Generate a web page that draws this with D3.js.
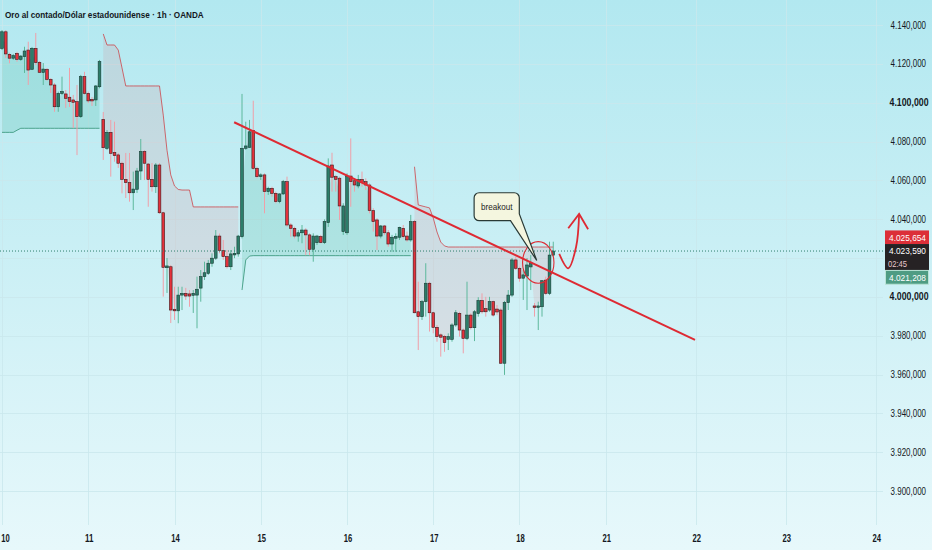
<!DOCTYPE html>
<html lang="es">
<head>
<meta charset="UTF-8">
<title>Oro al contado/Dólar estadounidense · 1h · OANDA</title>
<script src="https://d3js.org/d3.v7.min.js"></script>
<style>
  html, body { margin: 0; padding: 0; }
  body { width: 932px; height: 550px; overflow: hidden; font-family: "Liberation Sans", Arial, sans-serif; }
  svg { display: block; }
</style>
</head>
<body>
<div id="chart"></div>
<script>
// hourly bars, XAU/USD
const opens = [
  4128.0, 4136.5, 4124.9, 4122.9, 4125.4, 4122.3, 4123.7, 4127.1, 4117.2, 4128.0,
  4120.8, 4115.6, 4117.2, 4112.0, 4109.1, 4097.9, 4104.8, 4104.5, 4102.8, 4101.4,
  4100.5, 4092.8, 4113.4, 4104.8, 4101.7, 4101.4, 4108.2, 4091.4, 4076.5, 4084.7,
  4074.4, 4073.1, 4068.8, 4060.5, 4058.8, 4053.6, 4055.4, 4064.8, 4074.8, 4068.4,
  4060.5, 4056.7, 4067.9, 4043.3, 4015.0, 4015.5, 3993.6, 3992.8, 4000.9, 4001.8,
  4001.5, 4000.8, 4000.9, 4004.5, 4010.4, 4012.1, 4017.3, 4019.9, 4031.3, 4023.8,
  4020.7, 4015.5, 4021.6, 4022.1, 4031.0, 4076.5, 4077.0, 4085.6, 4066.2, 4061.9,
  4062.8, 4054.2, 4055.9, 4053.3, 4049.0, 4053.0, 4059.3, 4037.0, 4035.3, 4031.3,
  4033.0, 4034.4, 4031.9, 4024.5, 4027.9, 4031.0, 4027.9, 4038.2, 4067.9, 4061.9,
  4061.1, 4033.6, 4033.0, 4062.2, 4059.8, 4057.1, 4060.5, 4059.3, 4057.6, 4044.4,
  4039.6, 4031.3, 4036.5, 4033.0, 4027.2, 4030.2, 4030.7, 4035.3, 4031.3, 4029.3,
  4038.7, 3992.3, 3989.8, 3997.5, 4007.0, 3991.8, 3984.3, 3980.4, 3979.5, 3978.1,
  3978.1, 3985.5, 3991.5, 3982.9, 3978.6, 3990.6, 3984.1, 3991.4, 3998.1, 3993.9,
  3993.2, 3997.5, 3993.7, 3993.2, 3965.8, 3997.0, 4000.9, 4019.0, 4014.7, 4009.6,
  4010.7, 4015.4, 3995.3, 3994.6, 3994.9, 4008.6, 4001.8, 4021.5
];
const highs = [
  4137.4, 4137.4, 4125.7, 4125.1, 4126.2, 4124.5, 4128.8, 4131.4, 4128.7, 4135.9,
  4121.4, 4120.4, 4117.7, 4112.7, 4110.1, 4105.7, 4113.4, 4106.5, 4117.9, 4104.0,
  4109.1, 4114.3, 4115.9, 4105.7, 4102.9, 4109.1, 4122.0, 4095.2, 4085.9, 4091.1,
  4090.2, 4074.1, 4069.6, 4074.1, 4074.1, 4064.5, 4066.4, 4081.3, 4075.6, 4068.9,
  4068.9, 4068.9, 4068.9, 4043.8, 4020.0, 4016.4, 4005.2, 4005.2, 4005.2, 4004.6,
  4003.5, 4003.5, 4010.4, 4013.8, 4018.1, 4019.0, 4022.4, 4034.4, 4032.6, 4029.3,
  4024.1, 4024.1, 4025.8, 4031.9, 4104.5, 4090.2, 4091.1, 4101.0, 4067.0, 4063.6,
  4063.6, 4056.7, 4056.7, 4054.2, 4053.3, 4060.2, 4061.9, 4037.9, 4036.1, 4034.4,
  4037.0, 4035.3, 4032.7, 4032.7, 4031.9, 4031.9, 4039.9, 4071.3, 4074.2, 4062.8,
  4061.9, 4048.2, 4063.6, 4081.6, 4061.0, 4062.8, 4064.5, 4061.0, 4058.5, 4045.6,
  4040.5, 4037.0, 4037.0, 4034.4, 4031.9, 4032.7, 4036.1, 4037.0, 4033.6, 4042.2,
  4039.6, 4007.8, 3998.4, 4017.3, 4007.8, 3992.3, 3985.5, 3981.2, 3980.4, 3981.2,
  3986.4, 3993.2, 3992.3, 3983.7, 4007.8, 3991.5, 3993.2, 3999.8, 4001.8, 4000.0,
  4000.0, 3998.1, 3995.8, 3994.1, 3997.9, 4003.5, 4020.0, 4020.7, 4015.5, 4013.8,
  4020.0, 4021.5, 3996.8, 3997.5, 4008.6, 4010.4, 4028.4, 4028.4
];
const lows = [
  4127.1, 4123.0, 4120.3, 4122.0, 4121.1, 4121.5, 4115.3, 4109.1, 4116.8, 4119.4,
  4115.3, 4109.1, 4111.3, 4105.0, 4095.3, 4095.3, 4104.0, 4097.3, 4097.8, 4087.0,
  4073.0, 4092.1, 4104.0, 4099.8, 4098.3, 4098.3, 4107.4, 4070.5, 4075.6, 4061.9,
  4069.6, 4066.4, 4053.3, 4050.9, 4049.0, 4044.7, 4053.5, 4060.2, 4060.2, 4046.4,
  4054.2, 4053.5, 4042.7, 4000.1, 4002.0, 3986.5, 3988.1, 3986.4, 3993.2, 3998.4,
  3994.9, 3991.7, 3983.8, 3997.5, 4008.7, 4011.3, 4015.5, 4019.0, 4022.4, 4019.0,
  4014.6, 4013.8, 4019.9, 4020.7, 4030.1, 4075.6, 4076.7, 4065.3, 4061.1, 4060.2,
  4043.0, 4052.5, 4051.6, 4048.2, 4048.2, 4052.5, 4036.1, 4031.0, 4030.1, 4028.4,
  4027.6, 4021.5, 4021.5, 4018.1, 4026.7, 4027.6, 4027.2, 4036.0, 4054.2, 4054.2,
  4039.6, 4031.9, 4031.9, 4046.4, 4054.2, 4055.9, 4056.7, 4055.0, 4043.0, 4033.6,
  4024.1, 4030.1, 4031.9, 4025.8, 4023.2, 4023.2, 4029.3, 4030.1, 4028.4, 4028.4,
  3991.5, 3972.6, 3988.1, 3989.8, 3982.1, 3981.2, 3976.9, 3969.2, 3971.7, 3972.6,
  3976.9, 3984.6, 3979.5, 3970.9, 3977.7, 3983.2, 3977.2, 3989.8, 3991.4, 3989.8,
  3992.3, 3989.8, 3990.6, 3965.4, 3959.8, 3993.2, 4000.0, 4013.8, 4007.8, 3998.4,
  3993.2, 4003.5, 3989.8, 3982.9, 3989.8, 4000.9, 4000.9, 4020.7
];
const closes = [
  4136.5, 4125.1, 4122.9, 4124.2, 4122.3, 4124.0, 4126.6, 4116.8, 4128.0, 4120.6,
  4115.6, 4117.3, 4112.0, 4109.1, 4097.9, 4104.8, 4105.7, 4102.2, 4100.5, 4100.2,
  4092.8, 4113.4, 4104.8, 4100.9, 4100.9, 4108.6, 4121.1, 4076.8, 4084.7, 4073.9,
  4072.7, 4068.8, 4060.5, 4058.8, 4053.6, 4055.5, 4064.8, 4074.8, 4068.8, 4060.5,
  4056.7, 4067.9, 4043.3, 4015.2, 4015.9, 3993.2, 3992.8, 4000.9, 4001.8, 4000.4,
  4000.4, 4001.8, 4003.9, 4010.4, 4012.4, 4017.3, 4019.9, 4031.3, 4023.8, 4020.7,
  4015.5, 4022.1, 4022.4, 4031.3, 4076.5, 4077.7, 4085.0, 4066.2, 4061.9, 4062.8,
  4054.2, 4055.9, 4053.3, 4049.0, 4053.0, 4059.3, 4037.0, 4035.3, 4031.3, 4033.0,
  4034.4, 4031.9, 4024.5, 4031.3, 4031.3, 4027.9, 4038.7, 4067.4, 4061.6, 4060.5,
  4046.8, 4046.8, 4062.2, 4059.3, 4057.6, 4060.5, 4058.8, 4057.6, 4044.4, 4038.7,
  4031.3, 4036.5, 4033.0, 4027.2, 4030.7, 4031.0, 4035.8, 4031.0, 4029.3, 4038.7,
  3991.8, 3989.8, 3997.5, 4007.0, 3991.8, 3984.3, 3979.5, 3979.2, 3976.4, 3979.5,
  3985.5, 3991.8, 3982.9, 3978.6, 3990.6, 3984.1, 3992.3, 3998.1, 3992.3, 3992.3,
  3997.5, 3990.6, 3992.2, 3965.8, 3997.0, 4000.9, 4019.0, 4014.7, 4009.6, 4011.3,
  4016.4, 4017.5, 3994.6, 3995.3, 4008.3, 4001.8, 4021.5, 4023.59
];

// Supertrend level per bar, and where it is bullish / bearish
const stLine = [
  4084.7, 4084.7, 4084.7, 4084.7, 4085.8, 4086.8, 4086.8, 4086.8, 4086.8, 4086.8,
  4086.8, 4086.8, 4086.8, 4086.8, 4086.8, 4086.8, 4086.8, 4086.8, 4086.8, 4086.8,
  4086.8, 4086.8, 4086.8, 4086.8, 4086.8, 4086.8, 4086.8, 4135.4, 4129.7, 4129.7,
  4129.7, 4127.1, 4117.9, 4108.6, 4108.6, 4108.6, 4108.6, 4108.6, 4108.6, 4108.6,
  4108.6, 4108.6, 4108.6, 4093.6, 4075.5, 4062.8, 4057.1, 4055.3, 4055.0, 4055.0,
  4055.0, 4046.3, 4046.3, 4046.3, 4046.3, 4046.3, 4046.3, 4046.3, 4046.3, 4046.3,
  4046.3, 4046.3, 4046.3, 4046.3, 4003.5, 4019.0, 4021.0, 4021.2, 4021.2, 4021.2,
  4021.2, 4021.2, 4021.2, 4021.2, 4021.2, 4021.2, 4021.2, 4021.2, 4021.2, 4021.2,
  4021.2, 4021.2, 4021.2, 4021.2, 4021.2, 4021.2, 4021.2, 4021.2, 4021.2, 4021.2,
  4021.2, 4021.2, 4021.2, 4021.2, 4021.2, 4021.2, 4021.2, 4021.2, 4021.2, 4021.2,
  4021.2, 4021.2, 4021.2, 4021.2, 4021.2, 4021.2, 4021.2, 4021.2, 4021.2, 4021.2,
  4067.0, 4047.3, 4046.8, 4046.3, 4045.8, 4040.6, 4033.4, 4028.2, 4026.2, 4025.654,
  4025.654, 4025.654, 4025.654, 4025.654, 4025.654, 4025.654, 4025.654, 4025.654, 4025.654, 4025.654,
  4025.654, 4025.654, 4025.654, 4025.654, 4025.654, 4025.654, 4025.654, 4025.654, 4025.654, 4025.654,
  4025.654, 4025.654, 4025.654, 4025.654, 4025.654, 4025.654, 4025.654, 4025.654
];
const stSegments = [
  { from: 0, to: 26, up: true },
  { from: 27, to: 63, up: false },
  { from: 64, to: 109, up: true },
  { from: 110, to: 147, up: false }
];

const dayTicks = [0, 23, 46, 69, 92, 115, 138, 161, 185, 209, 233];
const dayLabels = ["10", "11", "14", "15", "16", "17", "18", "21", "22", "23", "24"];
const priceTicks = [3900, 3920, 3940, 3960, 3980, 4000, 4020, 4040, 4060, 4080, 4100, 4120, 4140];
const hiddenTicks = [4020];
const boldTicks = [4000, 4100];

const lastPrice = 4023.590;
const stopPrice = 4025.654;
const bidPrice = 4021.208;
const countdown = "02:45";

// annotations in [bar, price]
const trendLine = [[61.9, 4089.9], [184.8, 3977.8]];
const circleCenter = [143.0, 4017.7];
const calloutBox = [[125.9, 4053.6], [137.95, 4039.2]];
const calloutTail = [[135.6, 4039.2], [137.95, 4042.7], [142.6, 4018.7]];
const arrowPath = [[148.6, 4022.1], [151.0, 4014.7], [153.1, 4025.8], [153.9, 4042.7]];
const arrowHead = [[151.0, 4035.3], [153.9, 4042.7], [156.3, 4034.8]];

const width = 932, height = 550;
const plotW = 883, plotH = 525;

const es = d3.formatLocale({ decimal: ",", thousands: ".", grouping: [3], currency: ["", ""] });
const fmt = es.format(",.3f");

const x = d3.scaleLinear().domain([0, 233]).range([2, 2 + 233 * 3.75]);
const y = d3.scaleLinear().domain([3900, 4140]).range([491, 25]);

const svg = d3.select("#chart").append("svg")
  .attr("width", width).attr("height", height);

// squeeze a text horizontally to a given width (the chart's fonts are condensed)
function fitText(sel, px, py, w, anchor) {
  sel.attr("x", 0).attr("y", 0).attr("text-anchor", anchor || "start");
  sel.each(function () {
    const nat = this.getComputedTextLength();
    const s = Math.min(1.2, w / nat);
    d3.select(this).attr("transform", `translate(${px},${py}) scale(${s},1)`);
  });
  return sel;
}

const defs = svg.append("defs");
const grad = defs.append("linearGradient").attr("id", "bg")
  .attr("x1", 0).attr("y1", 0).attr("x2", 0).attr("y2", 1);
grad.append("stop").attr("offset", "0%").attr("stop-color", "#b2e8f0");
grad.append("stop").attr("offset", "100%").attr("stop-color", "#e7f8fb");
defs.append("clipPath").attr("id", "plot")
  .append("rect").attr("width", plotW).attr("height", plotH);

svg.append("rect").attr("width", width).attr("height", height).attr("fill", "url(#bg)");

// grid
const grid = svg.append("g");
grid.selectAll(".hg").data(priceTicks).join("line")
  .attr("x1", 0).attr("x2", plotW)
  .attr("y1", d => Math.round(y(d)) + 0.5).attr("y2", d => Math.round(y(d)) + 0.5)
  .attr("stroke", "#c9e7ec").attr("stroke-opacity", 0.8);
grid.selectAll(".vg").data(dayTicks).join("line")
  .attr("x1", d => Math.round(x(d)) + 0.5).attr("x2", d => Math.round(x(d)) + 0.5)
  .attr("y1", 0).attr("y2", plotH)
  .attr("stroke", "#c9e7ec").attr("stroke-opacity", 0.8);

const g = svg.append("g").attr("clip-path", "url(#plot)");

// supertrend fill + line
const mid = i => (opens[i] + closes[i]) / 2;
stSegments.forEach(s => {
  const idx = d3.range(s.from, s.to + 1);
  g.append("path").datum(idx)
    .attr("d", d3.area().x(i => x(i)).y0(i => y(stLine[i])).y1(i => y(mid(i))))
    .attr("fill", s.up ? "rgba(20,160,120,0.15)" : "rgba(235,70,80,0.11)");
  g.append("path").datum(idx)
    .attr("d", d3.line().x(i => x(i)).y(i => y(stLine[i])))
    .attr("fill", "none")
    .attr("stroke", s.up ? "rgba(40,140,110,0.75)" : "rgba(205,60,65,0.75)")
    .attr("stroke-width", 1);
});

// candles
const bars = opens.map((o, i) => ({ i, o, h: highs[i], l: lows[i], c: closes[i] }));
const bw = 2.7;
g.selectAll(".wick").data(bars).join("line")
  .attr("x1", d => x(d.i)).attr("x2", d => x(d.i))
  .attr("y1", d => y(d.h)).attr("y2", d => y(d.l))
  .attr("stroke", d => d.c >= d.o ? "#5db89c" : "#ef9fa8")
  .attr("stroke-width", 1);
g.selectAll(".body").data(bars).join("rect")
  .attr("x", d => x(d.i) - bw / 2)
  .attr("y", d => y(Math.max(d.o, d.c)))
  .attr("width", bw)
  .attr("height", d => Math.max(1, Math.abs(y(d.o) - y(d.c))))
  .attr("fill", d => d.c >= d.o ? "#2c7d69" : "#e5313b")
  .attr("stroke", d => d.c >= d.o ? "#173a33" : "#3d1a1d")
  .attr("stroke-width", 0.6);

// last price line
g.append("line")
  .attr("x1", 0).attr("x2", plotW)
  .attr("y1", y(lastPrice)).attr("y2", y(lastPrice))
  .attr("stroke", "#2f7f6c").attr("stroke-width", 1)
  .attr("stroke-dasharray", "1,2");

// trend line
g.append("line")
  .attr("x1", x(trendLine[0][0])).attr("y1", y(trendLine[0][1]))
  .attr("x2", x(trendLine[1][0])).attr("y2", y(trendLine[1][1]))
  .attr("stroke", "#de2a33").attr("stroke-width", 2);

// circle
g.append("ellipse")
  .attr("cx", x(circleCenter[0])).attr("cy", y(circleCenter[1]))
  .attr("rx", 15.7).attr("ry", 20.8)
  .attr("fill", "none").attr("stroke", "#de2a33").attr("stroke-width", 1.1);

// callout
const bx0 = x(calloutBox[0][0]), by0 = y(calloutBox[0][1]);
const bx1 = x(calloutBox[1][0]), by1 = y(calloutBox[1][1]);
const r = 5;
const t0 = calloutTail.map(p => [x(p[0]), y(p[1])]);
const cp = d3.path();
cp.moveTo(bx0 + r, by0);
cp.lineTo(bx1 - r, by0);
cp.arcTo(bx1, by0, bx1, by0 + r, r);
cp.lineTo(t0[1][0], t0[1][1]);
cp.lineTo(t0[2][0], t0[2][1]);
cp.lineTo(t0[0][0], t0[0][1]);
cp.lineTo(bx0 + r, by1);
cp.arcTo(bx0, by1, bx0, by1 - r, r);
cp.lineTo(bx0, by0 + r);
cp.arcTo(bx0, by0, bx0 + r, by0, r);
cp.closePath();
g.append("path").attr("d", cp.toString())
  .attr("fill", "#f4f6df").attr("stroke", "#2a3a36").attr("stroke-width", 1.2);
fitText(g.append("text")
  .attr("font-size", 9).attr("fill", "#1e2424")
  .text("breakout"), (bx0 + bx1) / 2, (by0 + by1) / 2 + 3, 31.5, "middle");

// curved arrow
const ap = arrowPath.map(p => [x(p[0]), y(p[1])]);
g.append("path")
  .attr("d", d3.line().curve(d3.curveCatmullRom)(ap))
  .attr("fill", "none").attr("stroke", "#de2a33").attr("stroke-width", 1.8);
g.append("path")
  .attr("d", d3.line()(arrowHead.map(p => [x(p[0]), y(p[1])])))
  .attr("fill", "none").attr("stroke", "#de2a33").attr("stroke-width", 1.8)
  .attr("stroke-linejoin", "miter");

// price axis labels
const axisRight = 926;
priceTicks.filter(d => !hiddenTicks.includes(d)).forEach(d => {
  const bold = boldTicks.includes(d);
  fitText(svg.append("text")
    .attr("font-size", 10)
    .attr("font-weight", bold ? "bold" : "normal")
    .attr("fill", "#131722")
    .text(fmt(d)), bold ? axisRight + 2.5 : axisRight, y(d) + 3.5, bold ? 39 : 35.5, "end");
});

// price boxes
const py = y(lastPrice);
const boxX = 885, boxW = 44, textR = 926;
svg.append("rect").attr("x", boxX).attr("y", py - 20.6).attr("width", boxW).attr("height", 13.6).attr("fill", "#dc2f38");
fitText(svg.append("text").attr("font-size", 9).attr("fill", "#fff").text(fmt(stopPrice)),
  textR, py - 10.5, 37, "end");
svg.append("rect").attr("x", boxX).attr("y", py - 7).attr("width", boxW).attr("height", 26.4).attr("fill", "#262224");
fitText(svg.append("text").attr("font-size", 9).attr("fill", "#fff").text(fmt(lastPrice)),
  textR, py + 3.2, 37, "end");
fitText(svg.append("text").attr("font-size", 9).attr("fill", "#e9c9cd").text(countdown),
  boxX + 3, py + 15.5, 19, "start");
svg.append("rect").attr("x", boxX + 0.5).attr("y", py + 19.4).attr("width", boxW - 1).attr("height", 13.8)
  .attr("fill", "#4e9c83").attr("stroke", "#b9e3d6").attr("stroke-width", 1);
fitText(svg.append("text").attr("font-size", 9).attr("fill", "#fff").text(fmt(bidPrice)),
  textR, py + 29.5, 37, "end");

// time axis labels
dayTicks.forEach((d, i) => {
  fitText(svg.append("text")
    .attr("font-size", 11).attr("font-weight", "bold").attr("fill", "#131722")
    .text(dayLabels[i]), Math.max(x(d) + 1, 5.5), 542, 8.5, "middle");
});

// title
fitText(svg.append("text")
  .attr("font-size", 9).attr("font-weight", "bold").attr("fill", "#131722")
  .text("Oro al contado/Dólar estadounidense · 1h · OANDA"), 5, 17.5, 199, "start");
</script>
</body>
</html>
